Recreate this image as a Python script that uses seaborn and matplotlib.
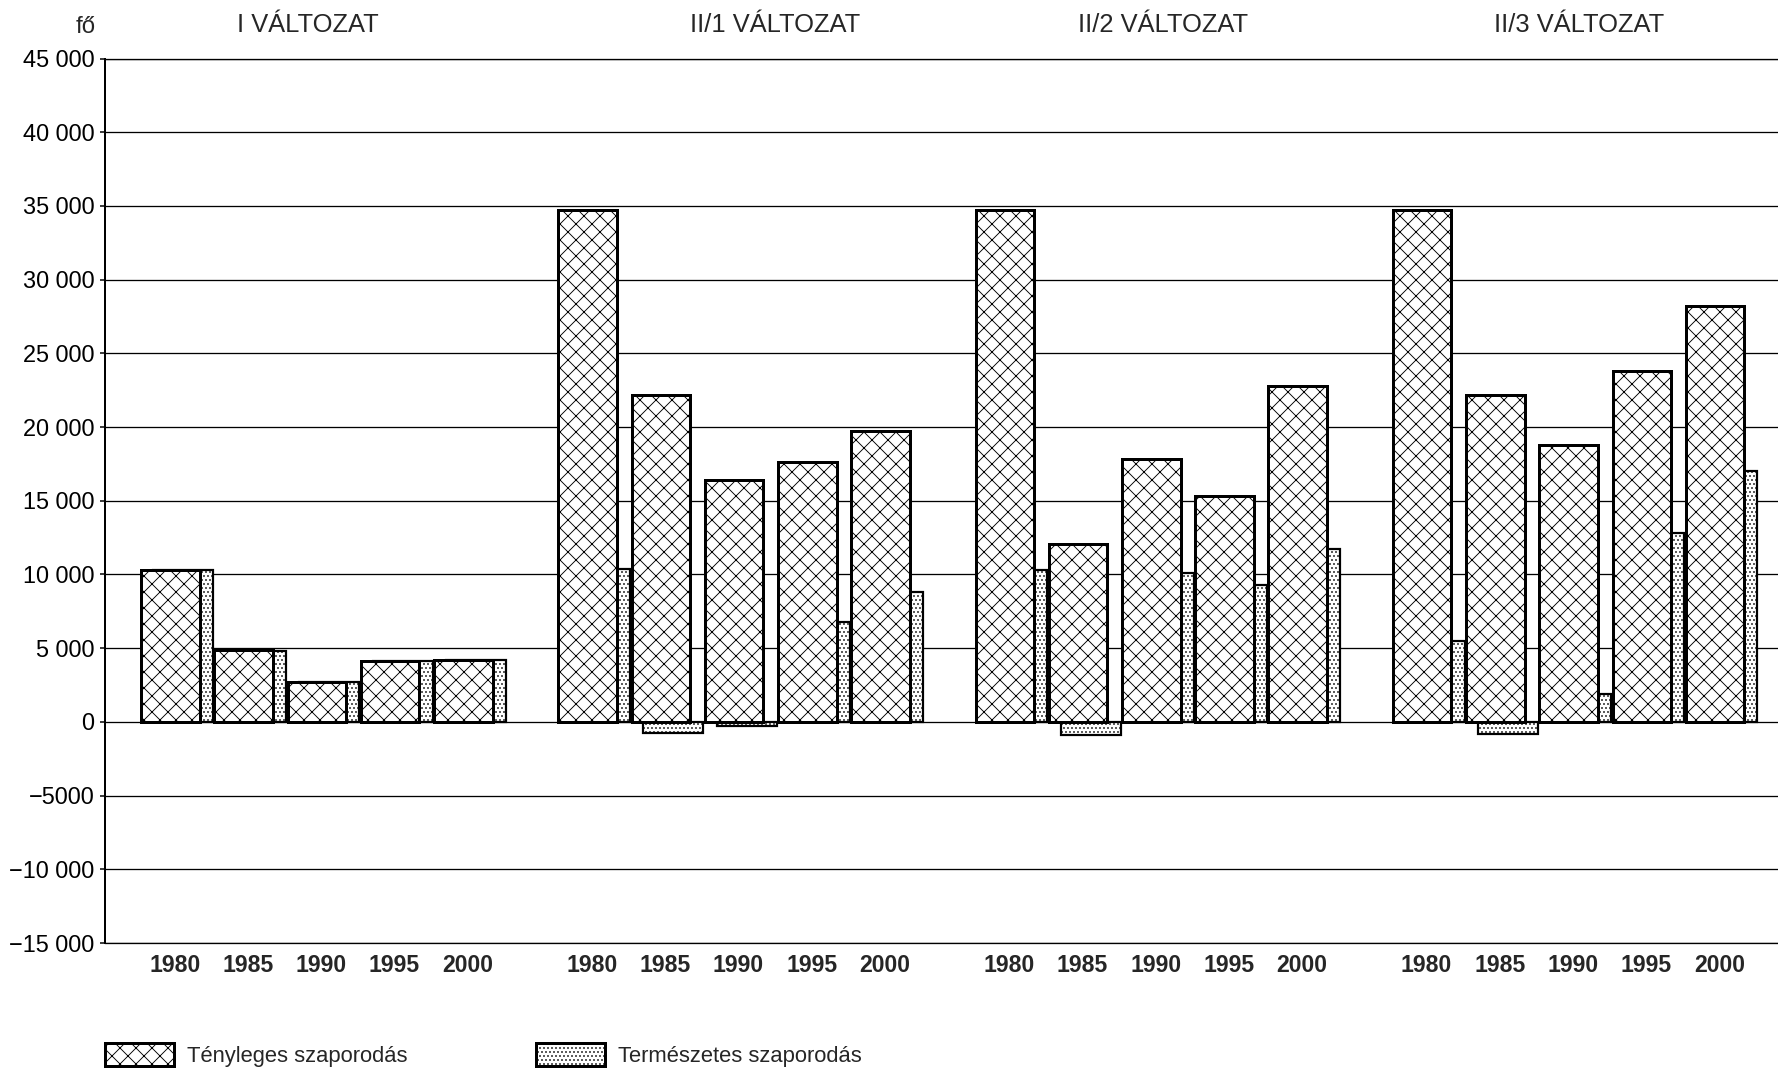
import matplotlib
matplotlib.use("Agg")
import matplotlib.pyplot as plt
import matplotlib.transforms as mtransforms
from matplotlib.patches import Patch
import seaborn as sns
import pandas as pd

# Chart values (fő)
groups = ["I VÁLTOZAT", "II/1 VÁLTOZAT", "II/2 VÁLTOZAT", "II/3 VÁLTOZAT"]
years = ["1980", "1985", "1990", "1995", "2000"]

# Tényleges szaporodás (crosshatched bars)
tenyleges_I = [10300, 4850, 2700, 4100, 4200]
tenyleges_II1 = [34700, 22200, 16400, 17600, 19700]
tenyleges_II2 = [34700, 12100, 17800, 15300, 22800]
tenyleges_II3 = [34700, 22200, 18800, 23800, 28200]

# Természetes szaporodás (dotted bars)
termeszetes_I = [10300, 4800, 2700, 4100, 4200]
termeszetes_II1 = [10400, -750, -300, 6800, 8800]
termeszetes_II2 = [10300, -900, 10100, 9300, 11700]
termeszetes_II3 = [5500, -850, 1900, 12800, 17000]

y_ticks = [-15000, -10000, -5000, 0, 5000, 10000, 15000, 20000,
           25000, 30000, 35000, 40000, 45000]
y_labels = ["\u221215 000", "\u221210 000", "\u22125000", "0", "5 000",
            "10 000", "15 000", "20 000", "25 000", "30 000", "35 000",
            "40 000", "45 000"]

legend_labels = ["Tényleges szaporodás", "Természetes szaporodás"]

# Layout settings
group_step = 5.7
cross_width = 0.8
dot_width = 0.82
dot_shift = 0.17
title_shift = [-0.12, 0.56, 0.16, 0.15]

# low dpi makes the hatch pattern finer, so sizes are given in pixels
DPI = 48
def px(v):
    return v * 72 / DPI

tenyleges = [tenyleges_I, tenyleges_II1, tenyleges_II2, tenyleges_II3]
termeszetes = [termeszetes_I, termeszetes_II1, termeszetes_II2, termeszetes_II3]

rows = []
for g in range(len(groups)):
    for i in range(len(years)):
        rows.append({"group": groups[g], "year": years[i],
                     "x": g * group_step + i,
                     "tenyleges": tenyleges[g][i],
                     "termeszetes": termeszetes[g][i]})
df = pd.DataFrame(rows)
df["x_dot"] = df["x"] + dot_shift

sns.set_style("white")
plt.rcParams["font.family"] = ["Liberation Sans", "DejaVu Sans"]
plt.rcParams["hatch.color"] = "black"
plt.rcParams["hatch.linewidth"] = px(0.9)

fig = plt.figure(figsize=(1778 / DPI, 1072 / DPI), dpi=DPI)
ax = fig.add_axes([104.5 / 1778, 1 - 943 / 1072, 1 - 104.5 / 1778, (943 - 58.5) / 1072])

# Természetes szaporodás - drawn first, sits behind
sns.barplot(data=df, x="x_dot", y="termeszetes", native_scale=True,
            width=dot_width, color="white", edgecolor="black",
            linewidth=px(2.2), errorbar=None, ax=ax)
n_dot = len(ax.patches)
# Tényleges szaporodás - in front
sns.barplot(data=df, x="x", y="tenyleges", native_scale=True,
            width=cross_width, color="white", edgecolor="black",
            linewidth=px(3), errorbar=None, ax=ax)

for k, p in enumerate(ax.patches):
    p.set_facecolor("white")
    if k < n_dot:
        p.set_hatch("..")
        p.set_zorder(2)
    else:
        p.set_hatch("x")
        p.set_zorder(3)

# Axes and grid
ax.set_xlim((104.5 - 170.5) / 73.2, (1778 - 170.5) / 73.2)
ax.set_ylim(-15000, 45000)
ax.set_yticks(y_ticks, y_labels)
ax.set_xticks(df["x"] + 0.06, df["year"])
ax.set_xlabel("")
ax.set_ylabel("")
ax.set_axisbelow(True)
ax.yaxis.grid(True, color="black", linewidth=px(1.3))
ax.xaxis.grid(False)
for s in ["top", "bottom"]:
    ax.spines[s].set_visible(True)
    ax.spines[s].set_linewidth(px(1.3))
    ax.spines[s].set_color("black")
ax.spines["right"].set_visible(False)
ax.spines["left"].set_linewidth(px(2))
ax.spines["left"].set_color("black")

ax.tick_params(axis="y", direction="out", length=px(5), width=px(1.5), pad=px(5),
               labelsize=px(23.5), colors="black", left=True)
ax.tick_params(axis="x", length=0, pad=px(11), labelsize=px(23))
for lab in ax.get_xticklabels():
    lab.set_fontweight("bold")

# Group titles above the plot
trans = mtransforms.blended_transform_factory(ax.transData, ax.transAxes)
for g in range(len(groups)):
    ax.text(g * group_step + 2 + title_shift[g], 1.038, groups[g],
            transform=trans, ha="center", va="center", fontsize=px(25.5))

fig.text(96 / 1778, 1 - 27 / 1072, "fő", ha="right", va="center", fontsize=px(24))

# Legend - two separate entries along the bottom
handles = [Patch(facecolor="white", edgecolor="black", hatch="x", linewidth=px(3)),
           Patch(facecolor="white", edgecolor="black", hatch="..", linewidth=px(3))]
legend_x = [105 / 1778, 536 / 1778]
for h, lab, lx in zip(handles, legend_labels, legend_x):
    fig.legend([h], [lab], loc="center left",
               bbox_to_anchor=(lx, 1 - 1055 / 1072),
               frameon=False, borderpad=0, borderaxespad=0,
               handlelength=69 / 22, handleheight=27 / 22,
               handletextpad=0.6,
               prop={"family": ["Liberation Sans"], "size": px(22)})

fig.savefig("out.png", dpi=DPI)
